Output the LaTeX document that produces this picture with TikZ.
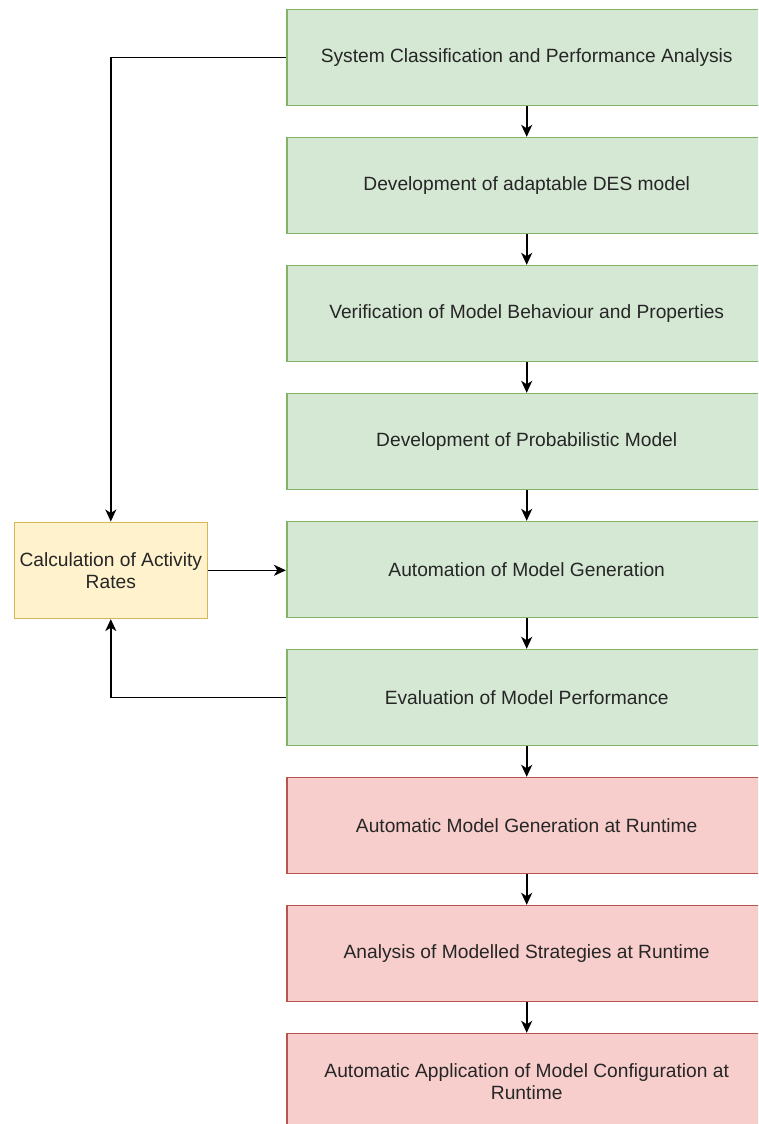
\documentclass[tikz,border=0pt]{standalone}
\usepackage{fontspec}
\setmainfont{Liberation Sans}
\usetikzlibrary{arrows.meta}
\definecolor{gfill}{HTML}{D5E8D4}
\definecolor{gline}{HTML}{82B366}
\definecolor{yfill}{HTML}{FFF2CC}
\definecolor{yline}{HTML}{D6B656}
\definecolor{rfill}{HTML}{F8CECC}
\definecolor{rline}{HTML}{B85450}
\tikzset{
  box/.style={rectangle, minimum width=480pt, minimum height=96pt, inner sep=0pt,
    line width=1.6pt, align=center, font=\fontsize{19.2}{22}\selectfont, text=black!85},
  gbox/.style={box, fill=gfill, draw=gline},
  rbox/.style={box, fill=rfill, draw=rline},
  ybox/.style={box, minimum width=193pt, fill=yfill, draw=yline},
  arr/.style={line width=1.6pt, draw=black, -{Stealth[length=12pt,width=11pt,inset=3.5pt]}}
}
\begin{document}
\begin{tikzpicture}[x=1pt,y=-1pt]
\clip (0,0) rectangle (758,1124);
\fill[white] (0,0) rectangle (758,1124);
\node[gbox] (b1) at (526.7,57.6) {System Classification and Performance Analysis};
\node[gbox] (b2) at (526.7,185.6) {Development of adaptable DES model};
\node[gbox] (b3) at (526.7,313.6) {Verification of Model Behaviour and Properties};
\node[gbox] (b4) at (526.7,441.6) {Development of Probabilistic Model};
\node[gbox] (b5) at (526.7,569.6) {Automation of Model Generation};
\node[gbox] (b6) at (526.7,697.6) {Evaluation of Model Performance};
\node[rbox] (b7) at (526.7,825.6) {Automatic Model Generation at Runtime};
\node[rbox] (b8) at (526.7,953.6) {Analysis of Modelled Strategies at Runtime};
\node[rbox] (b9) at (526.7,1081.6) {Automatic Application of Model Configuration at\\Runtime};
\node[ybox] (cr) at (110.8,570.3) {Calculation of Activity\\Rates};
\foreach \a/\b in {b1/b2,b2/b3,b3/b4,b4/b5,b5/b6,b6/b7,b7/b8,b8/b9}
  \draw[arr] (\a.south) -- (\b.north);
\draw[arr] (b1.west) -| (cr.north);
\draw[arr] (b6.west) -| (cr.south);
\draw[arr] (cr.east) -- (cr.east -| b5.west);
\end{tikzpicture}
\end{document}
